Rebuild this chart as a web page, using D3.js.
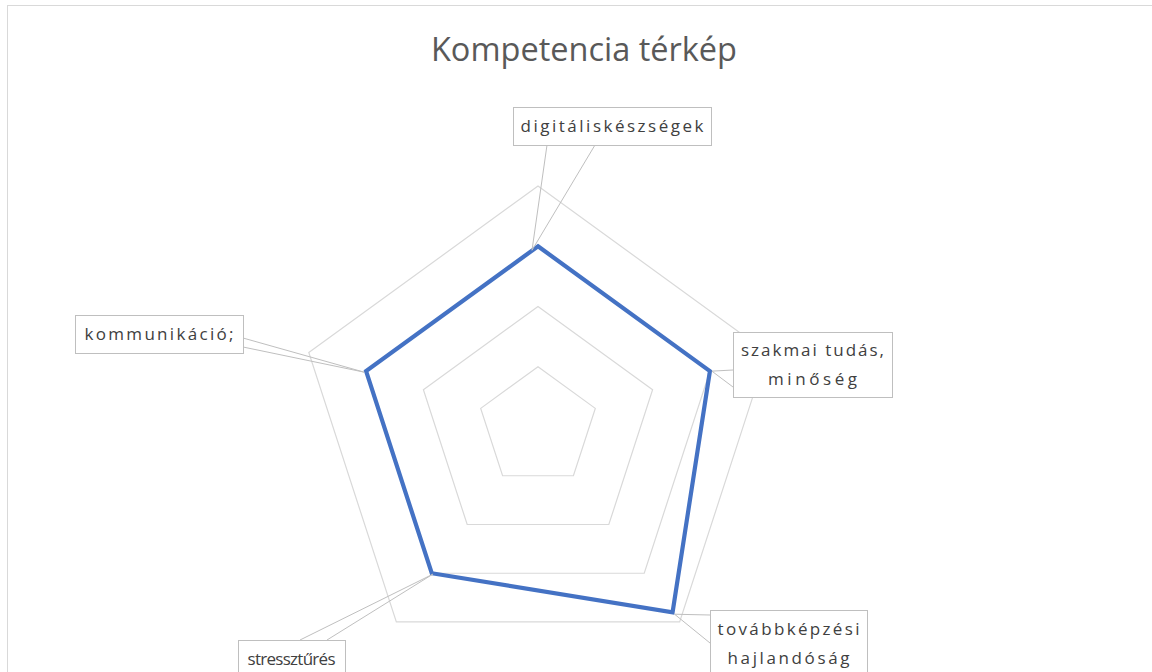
<!DOCTYPE html>
<html>
<head>
<meta charset="utf-8">
<script src="https://cdn.jsdelivr.net/npm/d3@7"></script>
<style>
  html, body { margin: 0; padding: 0; background: #fff; }
  svg { display: block; }
</style>
</head>
<body>
<div id="chart"></div>
<script>
// ---- data ----
const categories = ["digitáliskészségek", "szakmai tudás, minőség", "továbbképzési hajlandóság", "stressztűrés", "kommunikáció;"];
const labelLines = [["digitáliskészségek"], ["szakmai tudás,", "minőség"], ["továbbképzési", "hajlandóság"], ["stressztűrés"], ["kommunikáció;"]];
const values = [3, 3, 3.8, 3, 3];
const ringTicks = [1, 2, 3, 4];
const title = "Kompetencia térkép";

// ---- layout ----
const W = 1152, H = 672;
const cx = 538, cy = 427, R = 241;
// label boxes: [x, y, w, h], wedge base points, rendered text widths
const boxes = [
  { x: 513, y: 107, w: 198, h: 38, base: [[547, 145], [595, 145]], tip: [-6, 4], tw: [183] },
  { x: 733, y: 332, w: 159, h: 65, base: [[733, 370], [733, 387]], tip: [2, 0], tw: [143, 89] },
  { x: 710, y: 610, w: 157, h: 66, base: [[710, 615], [710, 643]], tip: [2, 2], tw: [142, 122] },
  { x: 238, y: 640, w: 107, h: 38, base: [[300, 640], [327, 640]], tip: [1, 1], tw: [88] },
  { x: 75, y: 315, w: 168, h: 38, base: [[243, 338], [243, 347]], tip: [-2, 1], tw: [149] }
];

const svg = d3.select("#chart").append("svg").attr("width", W).attr("height", H);

// chart area border
svg.append("rect").attr("x", 7.5).attr("y", 5.5).attr("width", W + 20).attr("height", H + 20)
  .attr("fill", "#fff").attr("stroke", "#d9d9d9").attr("stroke-width", 1);

// title
svg.append("text").attr("x", 584).attr("y", 61).attr("text-anchor", "middle")
  .attr("font-family", "'Open Sans', 'Noto Sans', sans-serif").attr("font-size", 32.5)
  .attr("fill", "#595959").text(title);

const r = d3.scaleLinear().domain([0, 4]).range([0, R]);
const angle = d3.scalePoint().domain(categories).range([0, 2 * Math.PI * (categories.length - 1) / categories.length]);
const pt = (cat, v) => {
  const a = angle(cat);
  return [cx + r(v) * Math.sin(a), cy - r(v) * Math.cos(a)];
};

// grid rings
const g = svg.append("g");
ringTicks.forEach(t => {
  g.append("path")
    .attr("d", d3.line()(categories.map(c => pt(c, t))) + "Z")
    .attr("fill", "none").attr("stroke", "#d9d9d9").attr("stroke-width", 1.2);
});

// data polygon
svg.append("path")
  .attr("d", d3.line()(categories.map((c, i) => pt(c, values[i]))) + "Z")
  .attr("fill", "none").attr("stroke", "#4472C4").attr("stroke-width", 4.2)
  .attr("stroke-linejoin", "miter");

// callout labels
categories.forEach((c, i) => {
  const b = boxes[i];
  const p = pt(c, values[i]);
  const tip = [p[0] + b.tip[0], p[1] + b.tip[1]];
  const lg = svg.append("g");
  b.base.forEach(bp => {
    lg.append("line").attr("x1", bp[0]).attr("y1", bp[1]).attr("x2", tip[0]).attr("y2", tip[1])
      .attr("stroke", "#bfbfbf").attr("stroke-width", 1);
  });
  lg.append("rect").attr("x", b.x + 0.5).attr("y", b.y + 0.5).attr("width", b.w).attr("height", b.h)
    .attr("fill", "#fff").attr("stroke", "#bfbfbf").attr("stroke-width", 1);
  const lines = labelLines[i];
  const lh = 29;
  const startY = b.y + b.h / 2 - (lines.length - 1) * lh / 2 + 6;
  lines.forEach((ln, k) => {
    lg.append("text").attr("x", b.x + b.w / 2).attr("y", startY + k * lh)
      .attr("text-anchor", "middle")
      .attr("font-family", "'Open Sans', 'Noto Sans', sans-serif").attr("font-size", 17)
      .attr("textLength", b.tw[k]).attr("lengthAdjust", "spacing")
      .attr("fill", "#404040").text(ln);
  });
});
</script>
</body>
</html>
